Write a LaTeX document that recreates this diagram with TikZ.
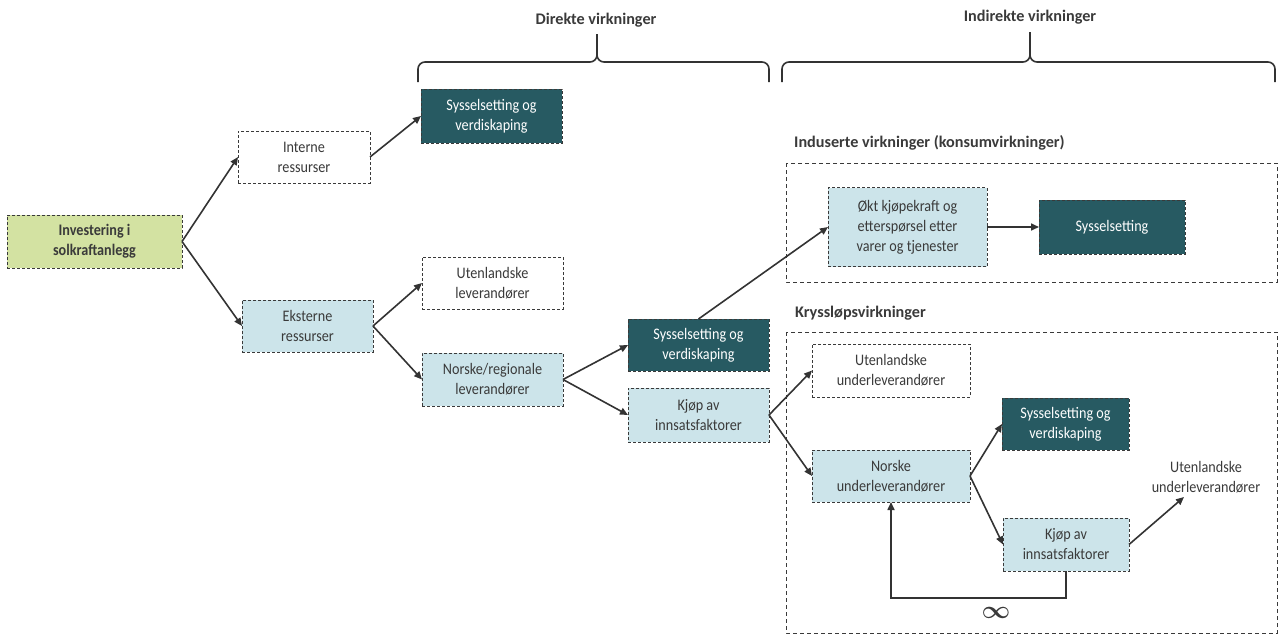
\documentclass[tikz,border=0pt]{standalone}
\usepackage{fontspec}
\usepackage{graphicx}
\setmainfont{Carlito}
\newfontfamily\bodyfont[FakeStretch=0.88]{Carlito}
\usetikzlibrary{arrows.meta}
\definecolor{txt}{HTML}{3A3A3A}
\definecolor{teal}{HTML}{275A62}
\definecolor{lblue}{HTML}{CCE4EA}
\definecolor{lgreen}{HTML}{D3E2A2}
\definecolor{edge}{HTML}{333333}
\tikzset{
  box/.style={draw=txt, dashed, dash pattern=on 3pt off 2pt, line width=0.9pt,
    inner sep=0pt, outer sep=0pt, align=center, text=txt,
    font=\bodyfont\fontsize{16.1}{20}\selectfont},
  plainbox/.style={box, fill=white},
  bluebox/.style={box, fill=lblue},
  tealbox/.style={box, fill=teal, text=white},
  greenbox/.style={box, fill=lgreen, font=\bodyfont\bfseries\fontsize{16.1}{20}\selectfont},
  frame/.style={draw=txt, dashed, dash pattern=on 4pt off 3pt, line width=0.9pt},
  arr/.style={draw=edge, line width=1.6pt, -{Triangle[length=8pt,width=7pt]}},
  head/.style={text=txt, font=\bfseries\fontsize{16.2}{18}\selectfont, inner sep=0pt},
  bracepath/.style={draw=edge, line width=1.6pt, rounded corners=7pt}
}
\begin{document}
\begin{tikzpicture}[x=1pt,y=-1pt]
\useasboundingbox (0,0) rectangle (1278,635);

% frames
\draw[frame] (786,163) rectangle (1277,282);
\draw[frame] (786,332) rectangle (1277,633);

% headers
\node[head] (hdir) at (596,20) {Direkte virkninger};
\node[head] (hind) at (1030,17) {Indirekte virkninger};
\node[head, anchor=west] (hindu) at (794,143) {Induserte virkninger (konsumvirkninger)};
\node[head, anchor=west] (hkry) at (795,313) {Kryssløpsvirkninger};

% braces
\draw[bracepath] (418,82) -- (418,62) -- (597,62) -- (597,34);
\draw[bracepath] (769,82) -- (769,62) -- (597,62) -- (597,34);
\draw[bracepath] (782,82) -- (782,62) -- (1030,62) -- (1030,32);
\draw[bracepath] (1275,82) -- (1275,62) -- (1030,62) -- (1030,32);

% nodes
\node[greenbox, minimum width=175pt, minimum height=53pt] (inv) at (94.5,241.5) {Investering i\\solkraftanlegg};
\node[plainbox, minimum width=132pt, minimum height=52pt] (int) at (304,157) {Interne\\ressurser};
\node[bluebox, minimum width=131pt, minimum height=52pt] (eks) at (307.5,326) {Eksterne\\ressurser};
\node[tealbox, minimum width=141pt, minimum height=54pt] (sys1) at (491.5,116) {Sysselsetting og\\verdiskaping};
\node[plainbox, minimum width=141pt, minimum height=52pt] (utl) at (492.5,283) {Utenlandske\\leverandører};
\node[bluebox, minimum width=141pt, minimum height=53pt] (nor) at (492.5,379.5) {Norske/regionale\\leverandører};
\node[tealbox, minimum width=141pt, minimum height=52pt] (sys2) at (698.5,345) {Sysselsetting og\\verdiskaping};
\node[bluebox, minimum width=141pt, minimum height=54pt] (kjop) at (698.5,415) {Kjøp av\\innsatsfaktorer};
\node[bluebox, minimum width=159pt, minimum height=79pt] (okt) at (907.5,227) {Økt kjøpekraft og\\etterspørsel etter\\varer og tjenester};
\node[tealbox, minimum width=146pt, minimum height=54pt] (sys3) at (1112,227) {Sysselsetting};
\node[plainbox, minimum width=158pt, minimum height=53pt] (uu) at (891,370.5) {Utenlandske\\underleverandører};
\node[tealbox, minimum width=127pt, minimum height=52pt] (sys4) at (1065.5,424) {Sysselsetting og\\verdiskaping};
\node[bluebox, minimum width=158pt, minimum height=52pt] (nu) at (891,476) {Norske\\underleverandører};
\node[bluebox, minimum width=126pt, minimum height=53pt] (kjop2) at (1066,544.5) {Kjøp av\\innsatsfaktorer};
\node[align=center, text=txt, font=\bodyfont\fontsize{16.1}{20}\selectfont, inner sep=0pt] (uu2) at (1206,477) {Utenlandske\\underleverandører};
\coordinate (uu2in) at (1184,497);
\coordinate (lp1) at (1066,598);
\coordinate (lp2) at (891,598);
\node[text=txt, inner sep=0pt] (inf) at (996,613) {\scalebox{2.5}{\boldmath$\infty$}};

% connectors
\draw[arr] (inv.east) -- (int.west);
\draw[arr] (inv.east) -- (eks.west);
\draw[arr] (int.east) -- (sys1.west);
\draw[arr] (eks.east) -- (utl.west);
\draw[arr] (eks.east) -- (nor.west);
\draw[arr] (nor.east) -- (sys2.west);
\draw[arr] (nor.east) -- (kjop.west);
\draw[arr] (sys2.north) -- (okt.west);
\draw[arr] (okt.east) -- (sys3.west);
\draw[arr] (kjop.east) -- (uu.west);
\draw[arr] (kjop.east) -- (nu.west);
\draw[arr] (nu.east) -- (sys4.west);
\draw[arr] (nu.east) -- (kjop2.west);
\draw[arr] (kjop2.east) -- (uu2in);
\draw[arr] (kjop2.south) -- (lp1) -- (lp2) -- (nu.south);
\end{tikzpicture}
\end{document}
